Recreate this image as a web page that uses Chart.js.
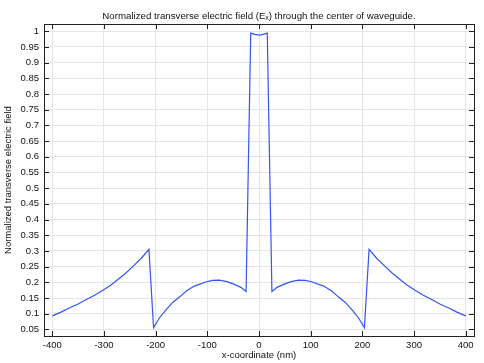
<!DOCTYPE html>
<html>
<head>
<meta charset="utf-8">
<script src="https://cdn.jsdelivr.net/npm/chart.js@4"></script>
<style>
  html, body { margin: 0; padding: 0; background: #fff; }
  #c { display: block; }
</style>
</head>
<body>
<canvas id="c" width="484" height="363"></canvas>
<script>
// x-coordinate (nm)
const xCoords = [-400,-383,-366,-350,-334,-318,-302,-287,-273,-258,-244,-228,-213,
  -204,-192,-180,-167,-154,-140,-125,-103,-90,-77,-64,-51,-35,-25,
  -16,-8,0,8,16,
  25,35,51,64,77,90,103,125,140,154,167,180,192,204,
  213,228,244,258,273,287,302,318,334,350,366,383,400];
// normalized transverse electric field
const fieldValues = [0.093,0.105,0.119,0.131,0.145,0.159,0.175,0.191,0.209,0.229,0.251,0.276,0.305,
  0.056,0.088,0.112,0.136,0.153,0.173,0.188,0.201,0.206,0.207,0.203,0.196,0.184,0.171,
  0.994,0.990,0.988,0.990,0.994,
  0.171,0.184,0.196,0.203,0.207,0.206,0.201,0.188,0.173,0.153,0.136,0.112,0.088,0.056,
  0.305,0.276,0.251,0.229,0.209,0.191,0.175,0.159,0.145,0.131,0.119,0.105,0.093];

const xTicks = [-400,-300,-200,-100,0,100,200,300,400];
const yTicks = [0.05,0.1,0.15,0.2,0.25,0.3,0.35,0.4,0.45,0.5,0.55,0.6,0.65,0.7,0.75,0.8,0.85,0.9,0.95,1];

const titleText = 'Normalized transverse electric field (E\u2093) through the center of waveguide.';
const xTitle = 'x-coordinate (nm)';
const yTitle = 'Normalized transverse electric field';

const points = xCoords.map((x, i) => ({ x: x, y: fieldValues[i] }));

const FONT = 'Liberation Sans, Arial, sans-serif';

const framePlugin = {
  id: 'frame',
  afterDraw(chart) {
    const ctx = chart.ctx;
    const a = chart.chartArea;
    const xs = chart.scales.x, ys = chart.scales.y;
    ctx.save();
    ctx.strokeStyle = '#222';
    ctx.lineWidth = 1;
    ctx.beginPath();
    xTicks.forEach(v => {
      const px = Math.round(xs.getPixelForValue(v)) + 0.5;
      ctx.moveTo(px, a.bottom); ctx.lineTo(px, a.bottom - 5);
      ctx.moveTo(px, a.top); ctx.lineTo(px, a.top + 5);
    });
    yTicks.forEach(v => {
      const py = Math.round(ys.getPixelForValue(v)) + 0.5;
      ctx.moveTo(a.left, py); ctx.lineTo(a.left + 5, py);
      ctx.moveTo(a.right, py); ctx.lineTo(a.right - 5, py);
    });
    ctx.stroke();
    ctx.strokeRect(Math.round(a.left) + 0.5, Math.round(a.top) + 0.5,
                   Math.round(a.right - a.left), Math.round(a.bottom - a.top));
    ctx.restore();
  }
};

new Chart(document.getElementById('c'), {
  type: 'line',
  data: {
    datasets: [{
      data: points,
      borderColor: '#3355f2',
      borderWidth: 1.2,
      pointRadius: 0,
      tension: 0,
      fill: false
    }]
  },
  options: {
    responsive: false,
    animation: false,
    devicePixelRatio: 1,
    layout: { padding: { left: 0, right: 10, top: 0, bottom: 0 } },
    plugins: {
      legend: { display: false },
      tooltip: { enabled: false },
      title: {
        display: true,
        fullSize: false,
        text: titleText,
        color: '#111',
        font: { family: FONT, size: 9.7, weight: 'normal', lineHeight: 1.2 },
        padding: { top: 11, bottom: 1.4 }
      }
    },
    scales: {
      x: {
        type: 'linear',
        min: -416, max: 416,
        afterBuildTicks(scale) { scale.ticks = xTicks.map(v => ({ value: v })); },
        afterFit(scale) { scale.height = 27; },
        ticks: {
          color: '#111',
          font: { family: FONT, size: 9.5 },
          padding: 4,
          maxRotation: 0,
          callback: v => String(v)
        },
        grid: { color: '#e6e6e6', lineWidth: 1, drawTicks: false },
        border: { display: false },
        title: {
          display: true,
          text: xTitle,
          color: '#111',
          font: { family: FONT, size: 9.5 },
          padding: 2
        }
      },
      y: {
        type: 'linear',
        min: 0.029, max: 1.023,
        afterBuildTicks(scale) { scale.ticks = yTicks.map(v => ({ value: v })); },
        afterFit(scale) { scale.width = 44; },
        ticks: {
          color: '#111',
          font: { family: FONT, size: 9.5 },
          padding: 5,
          callback: v => String(+v.toFixed(2))
        },
        grid: { color: '#e6e6e6', lineWidth: 1, drawTicks: false },
        border: { display: false },
        title: {
          display: true,
          text: yTitle,
          color: '#111',
          font: { family: FONT, size: 9.5 },
          padding: 3
        }
      }
    }
  },
  plugins: [framePlugin]
});
</script>
</body>
</html>
